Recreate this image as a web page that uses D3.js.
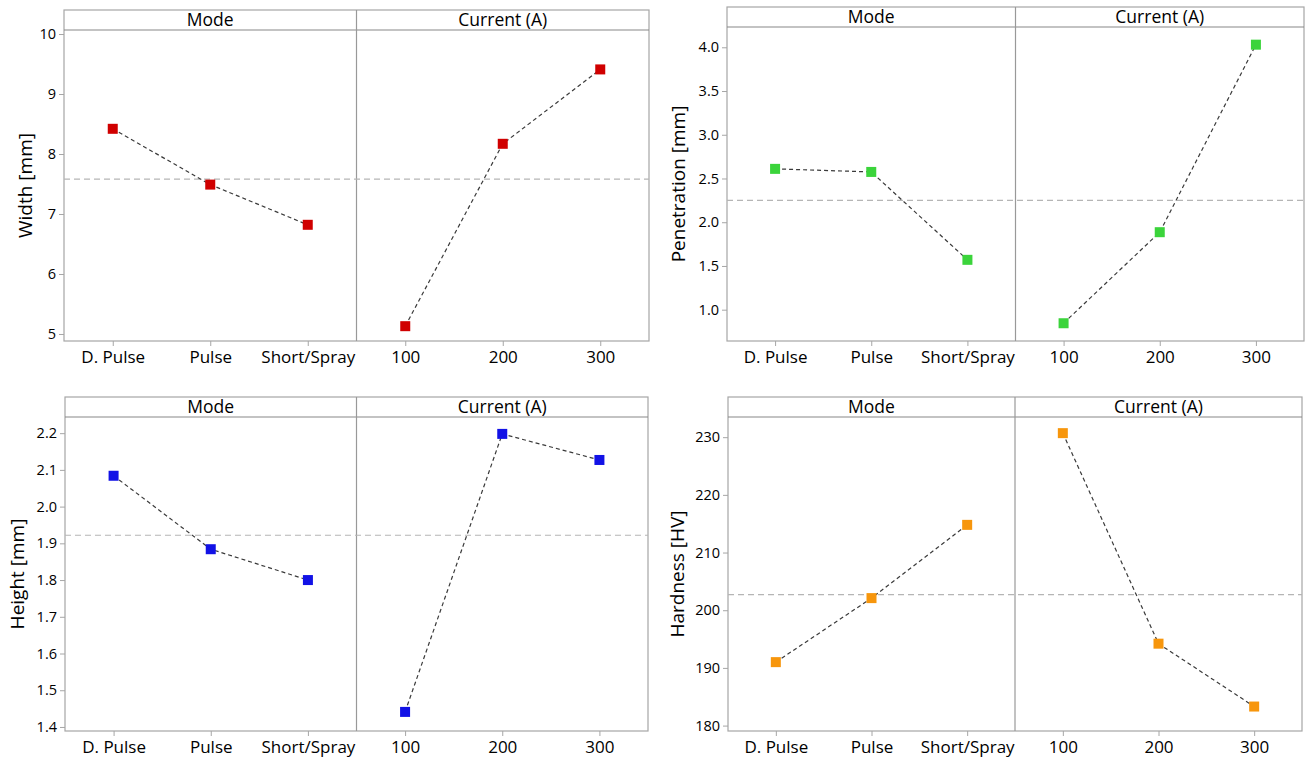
<!DOCTYPE html>
<html>
<head>
<meta charset="utf-8">
<script src="https://cdn.jsdelivr.net/npm/d3@7"></script>
<style>
  body { margin: 0; background: #fff; }
  svg { font-family: "Open Sans", sans-serif; }
</style>
</head>
<body>
<div id="chart"></div>
<script>
// data
const modes = ['D. Pulse', 'Pulse', 'Short/Spray'];
const currents = ['100', '200', '300'];
const facets = ['Mode', 'Current (A)'];

const widthMode = [8.42, 7.49, 6.82];
const widthCurrent = [5.13, 8.17, 9.41];
const widthMean = 7.58;

const penMode = [2.61, 2.575, 1.57];
const penCurrent = [0.845, 1.886, 4.03];
const penMean = 2.25;

const heightMode = [2.084, 1.884, 1.80];
const heightCurrent = [1.441, 2.198, 2.127];
const heightMean = 1.922;

const hardMode = [191.0, 202.1, 214.8];
const hardCurrent = [230.7, 194.2, 183.3];
const hardMean = 202.7;

const panels = [
  {label: 'Width [mm]', mode: widthMode, cur: widthCurrent, mean: widthMean,
   color: '#d00000', domain: [4.883, 10.067], ticks: d3.range(5, 10.01, 1), fmt: d3.format('d'),
   box: {left: 64, top: 10, right: 649, bottom: 341}, labelOff: 39},
  {label: 'Penetration [mm]', mode: penMode, cur: penCurrent, mean: penMean,
   color: '#3bd43b', domain: [0.642, 4.232], ticks: d3.range(1, 4.01, 0.5), fmt: d3.format('.1f'),
   box: {left: 727, top: 7, right: 1304, bottom: 341}, labelOff: 49},
  {label: 'Height [mm]', mode: heightMode, cur: heightCurrent, mean: heightMean,
   color: '#1212e6', domain: [1.389, 2.244], ticks: d3.range(1.4, 2.201, 0.1), fmt: d3.format('.1f'),
   box: {left: 65, top: 397, right: 648, bottom: 731}, labelOff: 48},
  {label: 'Hardness [HV]', mode: hardMode, cur: hardCurrent, mean: hardMean,
   color: '#f7960c', domain: [179.06, 233.5], ticks: d3.range(180, 230.1, 10), fmt: d3.format('d'),
   box: {left: 728, top: 397, right: 1302, bottom: 731}, labelOff: 51}
];

const headerH = 20;
const frameColor = '#a6a6a6';

const svg = d3.select('#chart').append('svg')
  .attr('width', 1305)
  .attr('height', 760);

panels.forEach(p => {
  const b = p.box;
  const mid = (b.left + b.right) / 2;
  const plotTop = b.top + headerH;
  const g = svg.append('g');

  const yScale = d3.scaleLinear()
    .domain(p.domain)
    .range([b.bottom, plotTop]);

  const xMode = d3.scalePoint().domain(modes).range([b.left, mid]).padding(0.5);
  const xCur = d3.scalePoint().domain(currents).range([mid, b.right]).padding(0.5);

  // frame + header
  g.append('rect')
    .attr('x', b.left).attr('y', b.top)
    .attr('width', b.right - b.left).attr('height', b.bottom - b.top)
    .attr('fill', 'none').attr('stroke', frameColor).attr('stroke-width', 1.2);
  g.append('line')
    .attr('x1', b.left).attr('x2', b.right)
    .attr('y1', plotTop).attr('y2', plotTop)
    .attr('stroke', '#888').attr('stroke-width', 1.2);
  g.append('line')
    .attr('x1', mid).attr('x2', mid)
    .attr('y1', b.top).attr('y2', b.bottom)
    .attr('stroke', '#999').attr('stroke-width', 1.2);

  g.selectAll('.facet')
    .data(facets)
    .join('text')
    .attr('x', (d, i) => i === 0 ? (b.left + mid) / 2 : (mid + b.right) / 2)
    .attr('y', b.top + 16)
    .attr('text-anchor', 'middle')
    .attr('font-size', 17.5)
    .attr('fill', '#000')
    .text(d => d);

  // axes
  const yAxis = d3.axisLeft(yScale).tickValues(p.ticks).tickFormat(p.fmt).tickSize(5).tickPadding(3);
  const yG = g.append('g').attr('transform', 'translate(' + b.left + ',0)').call(yAxis);
  yG.select('.domain').remove();
  yG.selectAll('line').attr('stroke', frameColor);
  yG.selectAll('text').attr('font-size', 14.5).attr('fill', '#000')
    .attr('font-family', '"Open Sans", sans-serif');

  [xMode, xCur].forEach(sc => {
    const xG = g.append('g')
      .attr('transform', 'translate(0,' + b.bottom + ')')
      .call(d3.axisBottom(sc).tickSize(5).tickPadding(5));
    xG.select('.domain').remove();
    xG.selectAll('line').attr('stroke', frameColor);
    xG.selectAll('text').attr('font-size', 17).attr('fill', '#000')
      .attr('font-family', '"Open Sans", sans-serif');
  });

  // y label
  g.append('text')
    .attr('transform', 'translate(' + (b.left - p.labelOff) + ',' + ((plotTop + b.bottom) / 2) + ') rotate(-90)')
    .attr('text-anchor', 'middle')
    .attr('dy', '0.35em')
    .attr('font-size', 19)
    .attr('fill', '#000')
    .text(p.label);

  // mean line
  g.append('line')
    .attr('x1', b.left).attr('x2', b.right)
    .attr('y1', yScale(p.mean)).attr('y2', yScale(p.mean))
    .attr('stroke', '#b5b5b5').attr('stroke-width', 1.2)
    .attr('stroke-dasharray', '6,4');

  const series = [
    {x: xMode, cats: modes, vals: p.mode},
    {x: xCur, cats: currents, vals: p.cur}
  ];

  series.forEach(s => {
    const pts = s.cats.map((c, i) => ({c: c, v: s.vals[i]}));
    const line = d3.line().x(d => s.x(d.c)).y(d => yScale(d.v));
    g.append('path')
      .datum(pts)
      .attr('d', line)
      .attr('fill', 'none')
      .attr('stroke', '#3a3a3a')
      .attr('stroke-width', 1.2)
      .attr('stroke-dasharray', '4,3');
    g.selectAll(null)
      .data(pts)
      .join('rect')
      .attr('x', d => s.x(d.c) - 5)
      .attr('y', d => yScale(d.v) - 5)
      .attr('width', 10).attr('height', 10)
      .attr('fill', p.color);
  });
});
</script>
</body>
</html>
